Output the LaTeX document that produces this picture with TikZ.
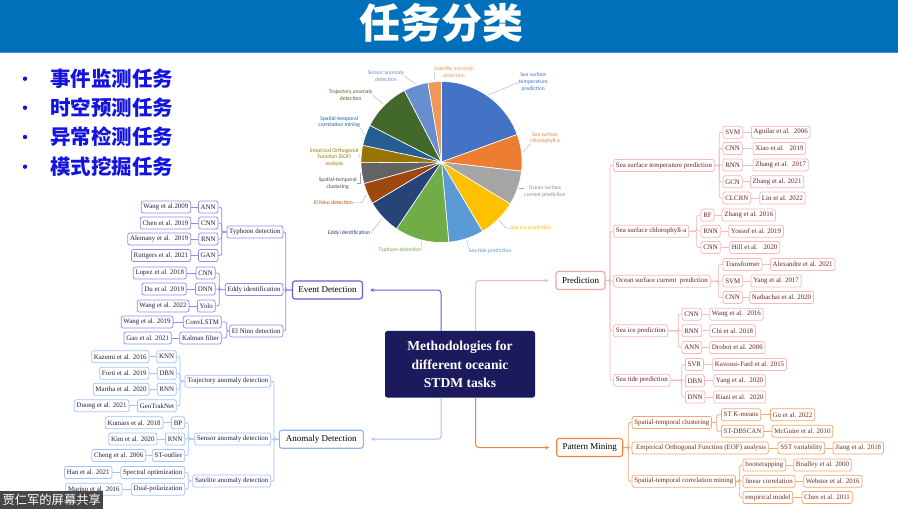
\documentclass[tikz,border=0pt]{standalone}
\usepackage{fontspec}
\setmainfont{Liberation Serif}
\newfontfamily\cjk{Noto Sans CJK SC}
\newfontfamily\pief{Carlito}
\usetikzlibrary{arrows.meta}
\definecolor{barblue}{HTML}{0070BA}
\definecolor{barline}{HTML}{3D8FD0}
\definecolor{bullblue}{HTML}{1414E0}
\definecolor{evc}{HTML}{8D8DEA}
\definecolor{evmainc}{HTML}{6262DA}
\definecolor{anc}{HTML}{A3C2F5}
\definecolor{anmainc}{HTML}{8FB3F2}
\definecolor{prc}{HTML}{F6B8B8}
\definecolor{prmainc}{HTML}{F4A3A3}
\definecolor{pmc}{HTML}{F5A66E}
\definecolor{pmmainc}{HTML}{F0843E}
\definecolor{navy}{HTML}{1B1A5C}
\definecolor{treetext}{HTML}{1F1F3F}
\definecolor{prtext}{HTML}{6B1F24}
\definecolor{pmtext}{HTML}{6E2E1C}
\definecolor{leadgray}{HTML}{A6A6A6}
\definecolor{pA}{HTML}{4472C4}
\definecolor{pB}{HTML}{ED7D31}
\definecolor{pC}{HTML}{A5A5A5}
\definecolor{pD}{HTML}{FFC000}
\definecolor{pE}{HTML}{5B9BD5}
\definecolor{pF}{HTML}{70AD47}
\definecolor{pG}{HTML}{264478}
\definecolor{pH}{HTML}{9E480E}
\definecolor{pI}{HTML}{636363}
\definecolor{pJ}{HTML}{997300}
\definecolor{pK}{HTML}{255E91}
\definecolor{pL}{HTML}{43682B}
\definecolor{pM}{HTML}{698ED0}
\definecolor{pN}{HTML}{F1975A}
\newcommand\bxf{\fontsize{6.9}{8}\selectfont}
\newcommand\mnf{\fontsize{9}{10}\selectfont}
\newcommand\pff{\pief\fontsize{5.6}{6.8}\selectfont}
\begin{document}
\begin{tikzpicture}[x=1pt,y=-1pt,
  box/.style={rounded corners=2pt, line width=0.75pt, inner xsep=2.3pt, inner ysep=0pt, minimum height=12pt, font=\bxf, fill=white},
  evb/.style={box, draw=evc, text=treetext},
  anb/.style={box, draw=anc, text=treetext},
  prb/.style={box, draw=prc, text=prtext},
  pmb/.style={box, draw=pmc, text=pmtext},
  mainbox/.style={rounded corners=2.5pt, line width=1.1pt, minimum height=18pt, inner xsep=3pt, font=\mnf, text=black, fill=white},
  evl/.style={draw=evc, line width=0.75pt, rounded corners=2pt},
  anl/.style={draw=anc, line width=0.75pt, rounded corners=2pt},
  prl/.style={draw=prc, line width=0.75pt, rounded corners=2pt},
  pml/.style={draw=pmc, line width=0.75pt, rounded corners=2pt},
  mainarrow/.style={line width=1pt, rounded corners=3pt, -{Stealth[length=4pt,width=3.6pt]}, shorten >=7pt},
  lead/.style={draw=leadgray, line width=0.35pt},
  pl/.style={font=\pff, align=center, inner sep=0pt},
  bull/.style={anchor=west, inner sep=0pt, text=bullblue, font=\cjk\bfseries\fontsize{20.5}{20.5}\selectfont},
  dot/.style={circle, fill=bullblue, inner sep=0pt, minimum size=4.4pt}
]
\useasboundingbox (0,0) rectangle (898,509);
\fill[white] (0,0) rectangle (898,509);
% title bar
\fill[barblue] (0,0) rectangle (898,52);
\fill[barline] (0,51.6) rectangle (898,53.4);
\node[text=white, inner sep=0pt, font=\cjk\bfseries\fontsize{41}{41}\selectfont] (title) at (441.7,22.5) {任务分类};
% bullets
\node[dot] (d1) at (25,78.7) {};
\node[dot] (d2) at (25,107.7) {};
\node[dot] (d3) at (25,137) {};
\node[dot] (d4) at (25,166.7) {};
\node[bull] (b1) at (50,78.7) {事件监测任务};
\node[bull] (b2) at (50,107.7) {时空预测任务};
\node[bull] (b3) at (50,137) {异常检测任务};
\node[bull] (b4) at (50,166.7) {模式挖掘任务};
% pie
\coordinate (pc) at (441.5,162);
\foreach \s/\e/\c in {-90/-20/pA, -20/6.6/pB, 6.6/31.4/pC, 31.4/59.4/pD, 59.4/84.8/pE, 84.8/124/pF, 124/149.2/pG, 149.2/164.5/pH, 164.5/179.5/pI, 179.5/192/pJ, 192/207.1/pK, 207.1/242.6/pL, 242.6/260.3/pM, 260.3/270/pN}
  \filldraw[fill=\c, draw=white, line width=0.6pt] (pc) -- ([shift={(\s:80.5)}]pc) arc[start angle=\s, end angle=\e, radius=80.5] -- cycle;
% pie labels
\node[pl, text=pA] (sstl) at (533.3,82.3) {Sea surface\\temperature\\prediction};
\node[pl, text=pB] (chll) at (545,138) {Sea surface\\chlorophyll-a};
\node[pl, text=pC!85!black] (ocl) at (545,191.3) {Ocean surface\\current prediction};
\node[pl, text=pD] (icel) at (530.7,228.3) {Sea ice prediction};
\node[pl, text=pE] (tidel) at (490,251) {Sea tide prediction};
\node[pl, text=pF] (typl) at (400,250) {Typhoon detection};
\node[pl, text=pG] (eddyl) at (349.3,233.3) {Eddy identification};
\node[pl, text=pH!80!orange] (elnl) at (333.3,202.7) {El Nino detection};
\node[pl, text=pI!80!black] (stcl) at (337.7,183.3) {Spatial-temporal\\clustering};
\node[pl, text=pJ] (eofl) at (334.3,157.5) {Empirical Orthogonal\\Function (EOF)\\analysis};
\node[pl, text=pK] (stcml) at (339.3,122) {Spatial-temporal\\correlation mining};
\node[pl, text=pL] (trajl) at (350.7,95) {Trajectory anomaly\\detection};
\node[pl, text=pM] (sensl) at (386,75.7) {Sensor anomaly\\detection};
\node[pl, text=pN] (satl) at (454,71.7) {Satellite anomaly\\detection};
\draw[lead] (sstl.west) -- ([shift={(-55:82)}]pc);
\draw[lead] (chll.south west) -- ([shift={(-6.7:82)}]pc);
\draw[lead] ([shift={(19:82)}]pc) |- ([yshift=3]ocl.west);
\draw[lead] ([shift={(45.4:82)}]pc) -- ++(7,7.5) -- (icel.west);
\draw[lead] ([shift={(72:82)}]pc) -- (tidel.north west);
\draw[lead] ([shift={(104.4:82)}]pc) -- (typl.north east);
\draw[lead] ([shift={(136.6:82)}]pc) -- (eddyl.east);
\draw[lead] ([shift={(156.9:82)}]pc) -- ++(-4,8.5) -- (elnl.east);
\draw[lead] ([shift={(172:82)}]pc) |- (stcl.east);
\draw[lead] (eofl.east) -- ([shift={(185.75:82)}]pc);
\draw[lead] (stcml.south east) -- ([shift={(199.55:82)}]pc);
\draw[lead] (trajl.east) -- ([shift={(224.85:82)}]pc);
\draw[lead] (sensl.east) -- ([shift={(251.45:82)}]pc);
\draw[lead] (satl.west) -- ([shift={(265.15:82)}]pc);
% hub
\node[fill=navy, rounded corners=2.5pt, minimum width=150pt, minimum height=66.7pt, text=white, align=center, font=\bfseries\fontsize{13.6}{18.3}\selectfont] (hub) at (460,364.3) {Methodologies for\\different oceanic\\STDM tasks};
% main nodes
\node[mainbox, draw=evmainc, minimum width=70pt] (ev) at (327.5,290) {Event Detection};
\node[mainbox, draw=anmainc, minimum width=84pt] (an) at (321.3,439.2) {Anomaly Detection};
\node[mainbox, draw=prmainc, minimum width=49pt] (pr) at (580.5,280.5) {Prediction};
\node[mainbox, draw=pmmainc, minimum width=66pt] (pm) at (589.7,447.5) {Pattern Mining};
\draw[mainarrow, draw=evmainc] ([xshift=-19pt]hub.north) |- (ev.east);
\draw[mainarrow, draw=anc] ([xshift=-19pt]hub.south) |- (an.east);
\draw[mainarrow, draw=prc] ([xshift=15.7pt]hub.north) |- (pr.west);
\draw[mainarrow, draw=pmmainc] ([xshift=15.7pt]hub.south) |- (pm.west);
% ===== Event Detection tree =====
\node[evb, anchor=east] (typh) at (283.3,232) {Typhoon detection};
\node[evb, anchor=east] (eddy) at (283.3,289.5) {Eddy identification};
\node[evb, anchor=east] (elnino) at (283.3,331) {El Nino detection};
\foreach \c in {typh,eddy,elnino} \draw[evl] (ev.west) -| ([xshift=2.4pt]\c.east) -- (\c.east);
\node[evb, anchor=east] (ann) at (218.3,207) {ANN};
\node[evb, anchor=east] (cnna) at (218.3,223) {CNN};
\node[evb, anchor=east] (rnna) at (218.3,239) {RNN};
\node[evb, anchor=east] (gan) at (218.3,255.5) {GAN};
\foreach \c in {ann,cnna,rnna,gan} \draw[evl] (typh.west) -| ([xshift=3.4pt]\c.east) -- (\c.east);
\node[evb, anchor=east] (wang09) at (191,207) {Wang et al.2009};
\node[evb, anchor=east] (chen19) at (191,223) {Chen et al. 2019};
\node[evb, anchor=east] (alem) at (191,239) {Alemany et al.~ 2019};
\node[evb, anchor=east] (rutt) at (191,255.5) {Ruttgers et al. 2021};
\draw[evl] (ann.west) -- (wang09.east);
\draw[evl] (cnna.west) -- (chen19.east);
\draw[evl] (rnna.west) -- (alem.east);
\draw[evl] (gan.west) -- (rutt.east);
\node[evb, anchor=east] (cnnb) at (215.5,273) {CNN};
\node[evb, anchor=east] (dnn) at (215.5,289) {DNN};
\node[evb, anchor=east] (yolo) at (215.5,306) {Yolo};
\foreach \c in {cnnb,dnn,yolo} \draw[evl] (eddy.west) -| ([xshift=3.8pt]\c.east) -- (\c.east);
\node[evb, anchor=east] (lopez) at (186.7,273) {Lopez et al. 2018};
\node[evb, anchor=east] (du) at (186.7,289) {Du et al. 2019};
\node[evb, anchor=east] (wang22) at (189.3,306) {Wang et al. 2022};
\draw[evl] (cnnb.west) -- (lopez.east);
\draw[evl] (dnn.west) -- (du.east);
\draw[evl] (yolo.west) -- (wang22.east);
\node[evb, anchor=east] (convl) at (221.7,322) {ConvLSTM};
\node[evb, anchor=east] (kalman) at (221.7,338) {Kalman filter};
\foreach \c in {convl,kalman} \draw[evl] (elnino.west) -| ([xshift=5pt]\c.east) -- (\c.east);
\node[evb, anchor=east] (wang19) at (173.3,322) {Wang et al. 2019};
\node[evb, anchor=east] (gao) at (171.7,338) {Gao et al. 2021};
\draw[evl] (convl.west) -- (wang19.east);
\draw[evl] (kalman.west) -- (gao.east);
% ===== Anomaly Detection tree =====
\node[anb, anchor=east] (trajc) at (271,381.3) {Trajectory anomaly detection};
\node[anb, anchor=east] (sensc) at (271,439) {Sensor anomaly detection};
\node[anb, anchor=east] (satc) at (271,481) {Satelite anomaly detection};
\foreach \c in {trajc,sensc,satc} \draw[anl] (an.west) -| ([xshift=3pt]\c.east) -- (\c.east);
\node[anb, anchor=east] (knn) at (176.7,356.7) {KNN};
\node[anb, anchor=east] (dbn) at (176.7,373.3) {DBN};
\node[anb, anchor=east] (rnnc) at (176.7,389.3) {RNN};
\node[anb, anchor=east] (geo) at (176.7,405.8) {GeoTrakNet};
\foreach \c in {knn,dbn,rnnc,geo} \draw[anl] (trajc.west) -| ([xshift=3.3pt]\c.east) -- (\c.east);
\node[anb, anchor=east] (kaz) at (149.3,356.7) {Kazemi et al. 2016};
\node[anb, anchor=east] (forti) at (149.3,373.3) {Forti et al. 2019};
\node[anb, anchor=east] (martha) at (149.3,389.3) {Martha et al. 2020};
\node[anb, anchor=east] (duong) at (129.3,405.8) {Duong et al. 2021};
\draw[anl] (knn.west) -- (kaz.east);
\draw[anl] (dbn.west) -- (forti.east);
\draw[anl] (rnnc.west) -- (martha.east);
\draw[anl] (geo.west) -- (duong.east);
\node[anb, anchor=east] (bp) at (185,422.8) {BP};
\node[anb, anchor=east] (rnnd) at (185,439) {RNN};
\node[anb, anchor=east] (stout) at (185,455.5) {ST-outlier};
\foreach \c in {bp,rnnd,stout} \draw[anl] (sensc.west) -| ([xshift=3.3pt]\c.east) -- (\c.east);
\node[anb, anchor=east] (kumars) at (163.3,422.8) {Kumars et al. 2018};
\node[anb, anchor=east] (kim) at (157.3,439) {Kim et al. 2020};
\node[anb, anchor=east] (cheng) at (146,455.5) {Cheng et al. 2006};
\draw[anl] (bp.west) -- (kumars.east);
\draw[anl] (rnnd.west) -- (kim.east);
\draw[anl] (stout.west) -- (cheng.east);
\node[anb, anchor=east] (spec) at (185,472.5) {Spectral optimization};
\node[anb, anchor=east] (dual) at (185,489.2) {Dual-polarization};
\foreach \c in {spec,dual} \draw[anl] (satc.west) -| ([xshift=3.3pt]\c.east) -- (\c.east);
\node[anb, anchor=east] (han) at (112.3,472.5) {Han et al. 2021};
\node[anb, anchor=east] (marino) at (122.3,489.2) {Marino et al. 2016};
\draw[anl] (spec.west) -- (han.east);
\draw[anl] (dual.west) -- (marino.east);
% ===== Prediction tree =====
\node[prb, anchor=west] (sst) at (613.3,165.5) {Sea surface temperature prediction};
\node[prb, anchor=west] (chl) at (613.3,231.2) {Sea surface chlorophyll-a};
\node[prb, anchor=west] (ocean) at (613.3,281.2) {Ocean surface current~ prediction};
\node[prb, anchor=west] (ice) at (613.3,330.7) {Sea ice prediction};
\node[prb, anchor=west] (tide) at (613.3,380.3) {Sea tide prediction};
\foreach \c in {sst,chl,ocean,ice,tide} \draw[prl] (pr.east) -| ([xshift=-3.3pt]\c.west) -- (\c.west);
\node[prb, anchor=west] (svma) at (722.7,132.2) {SVM};
\node[prb, anchor=west] (cnnc) at (722.7,148.5) {CNN};
\node[prb, anchor=west] (rnne) at (722.7,165) {RNN};
\node[prb, anchor=west] (gcn) at (722.7,181.8) {GCN};
\node[prb, anchor=west] (clcrn) at (722.7,198) {CLCRN};
\foreach \c in {svma,cnnc,rnne,gcn,clcrn} \draw[prl] (sst.east) -| ([xshift=-3.4pt]\c.west) -- (\c.west);
\node[prb, anchor=west] (aguilar) at (751,132.2) {Aguilar et al.~ 2006};
\node[prb, anchor=west] (xiao) at (752.7,148.5) {Xiao et al.~~ 2019};
\node[prb, anchor=west] (zhang17) at (752.7,165) {Zhang et al.~ 2017};
\node[prb, anchor=west] (zhang21) at (750,181.8) {Zhang et al. 2021};
\node[prb, anchor=west] (lin22) at (759.3,198) {Lin et al. 2022};
\draw[prl] (svma.east) -- (aguilar.west);
\draw[prl] (cnnc.east) -- (xiao.west);
\draw[prl] (rnne.east) -- (zhang17.west);
\draw[prl] (gcn.east) -- (zhang21.west);
\draw[prl] (clcrn.east) -- (lin22.west);
\node[prb, anchor=west] (rf) at (700.7,215) {RF};
\node[prb, anchor=west] (rnnf) at (700.7,231.2) {RNN};
\node[prb, anchor=west] (cnnd) at (700.7,247.5) {CNN};
\foreach \c in {rf,rnnf,cnnd} \draw[prl] (chl.east) -| ([xshift=-4pt]\c.west) -- (\c.west);
\node[prb, anchor=west] (zhang16) at (721.7,215) {Zhang et al. 2016};
\node[prb, anchor=west] (yossof) at (728.3,231.2) {Yossof et al. 2019};
\node[prb, anchor=west] (hill) at (729.3,247.5) {Hill et al.~~ 2020};
\draw[prl] (rf.east) -- (zhang16.west);
\draw[prl] (rnnf.east) -- (yossof.west);
\draw[prl] (cnnd.east) -- (hill.west);
\node[prb, anchor=west] (transf) at (722.7,264.5) {Transformer};
\node[prb, anchor=west] (svmb) at (722.7,281) {SVM};
\node[prb, anchor=west] (cnne) at (722.7,297.5) {CNN};
\foreach \c in {transf,svmb,cnne} \draw[prl] (ocean.east) -| ([xshift=-4.4pt]\c.west) -- (\c.west);
\node[prb, anchor=west] (alex) at (770,264.5) {Alexandre et al. 2021};
\node[prb, anchor=west] (yang17) at (750.7,281) {Yang et al. 2017};
\node[prb, anchor=west] (nath) at (749.3,297.5) {Nathachai et al. 2020};
\draw[prl] (transf.east) -- (alex.west);
\draw[prl] (svmb.east) -- (yang17.west);
\draw[prl] (cnne.east) -- (nath.west);
\node[prb, anchor=west] (cnnf) at (681.7,314.2) {CNN};
\node[prb, anchor=west] (rnng) at (681.7,330.8) {RNN};
\node[prb, anchor=west] (annb) at (681.7,347.5) {ANN};
\foreach \c in {cnnf,rnng,annb} \draw[prl] (ice.east) -| ([xshift=-3.4pt]\c.west) -- (\c.west);
\node[prb, anchor=west] (wang16) at (709.3,314.2) {Wang et al.~ 2016};
\node[prb, anchor=west] (chi18) at (709.3,330.8) {Chi et al. 2018};
\node[prb, anchor=west] (drobot) at (709.3,347.5) {Drobot et al. 2006};
\draw[prl] (cnnf.east) -- (wang16.west);
\draw[prl] (rnng.east) -- (chi18.west);
\draw[prl] (annb.east) -- (drobot.west);
\node[prb, anchor=west] (svr) at (685,364.5) {SVR};
\node[prb, anchor=west] (dbnb) at (685,380.8) {DBN};
\node[prb, anchor=west] (dnnb) at (685,397) {DNN};
\foreach \c in {svr,dbnb,dnnb} \draw[prl] (tide.east) -| ([xshift=-3.3pt]\c.west) -- (\c.west);
\node[prb, anchor=west] (kav) at (712.3,364.5) {Kavousi-Fard et al. 2015};
\node[prb, anchor=west] (yang20) at (713.3,380.8) {Yang et al.~ 2020};
\node[prb, anchor=west] (riazi) at (713.3,397) {Riazi et al.~ 2020};
\draw[prl] (svr.east) -- (kav.west);
\draw[prl] (dbnb.east) -- (yang20.west);
\draw[prl] (dnnb.east) -- (riazi.west);
% ===== Pattern Mining tree =====
\node[pmb, anchor=west] (clus) at (631.7,422.5) {Spatial-temporal clustering};
\node[pmb, anchor=west] (eofc) at (631.7,448) {~Empirical Orthogonal Function (EOF) analysis~};
\node[pmb, anchor=west] (corr) at (631.7,481.3) {Spatial-temporal correlation mining};
\foreach \c in {clus,eofc,corr} \draw[pml] (pm.east) -| ([xshift=-3.4pt]\c.west) -- (\c.west);
\node[pmb, anchor=west] (kmeans) at (721,414.7) {ST K-means};
\node[pmb, anchor=west] (dbscan) at (721,431.3) {ST-DBSCAN};
\foreach \c in {kmeans,dbscan} \draw[pml] (clus.east) -| ([xshift=-4.3pt]\c.west) -- (\c.west);
\node[pmb, anchor=west] (gu) at (770,414.7) {Gu et al. 2022};
\node[pmb, anchor=west] (mcg) at (771.7,431.3) {McGuire et al. 2010};
\draw[pml] (kmeans.east) -- (gu.west);
\draw[pml] (dbscan.east) -- (mcg.west);
\node[pmb, anchor=west] (sstv) at (777.7,448) {SST variability};
\node[pmb, anchor=west] (jiang) at (832.7,448) {Jiang et al. 2018};
\draw[pml] (eofc.east) -- (sstv.west);
\draw[pml] (sstv.east) -- (jiang.west);
\node[pmb, anchor=west] (boot) at (742.7,465) {bootstrapping};
\node[pmb, anchor=west] (linc) at (742.7,481.3) {linear correlation};
\node[pmb, anchor=west] (emp) at (742.7,497.5) {empirical model};
\foreach \c in {boot,linc,emp} \draw[pml] (corr.east) -| ([xshift=-3pt]\c.west) -- (\c.west);
\node[pmb, anchor=west] (bradley) at (793.3,465) {Bradley et al. 2000};
\node[pmb, anchor=west] (webster) at (803.3,481.3) {Webster et al. 2016};
\node[pmb, anchor=west] (chen11) at (801.7,497.5) {Chen et al. 2011};
\draw[pml] (boot.east) -- (bradley.west);
\draw[pml] (linc.east) -- (webster.west);
\draw[pml] (emp.east) -- (chen11.west);
% screen-share overlay
\node[fill=black!76, fill opacity=0.95, text opacity=1, text=white, anchor=south west, minimum width=103pt, minimum height=17.5pt, inner sep=0pt, font=\cjk\fontsize{12.3}{12.3}\selectfont] (share) at (0,509) {贾仁军的屏幕共享};
\end{tikzpicture}
\end{document}
